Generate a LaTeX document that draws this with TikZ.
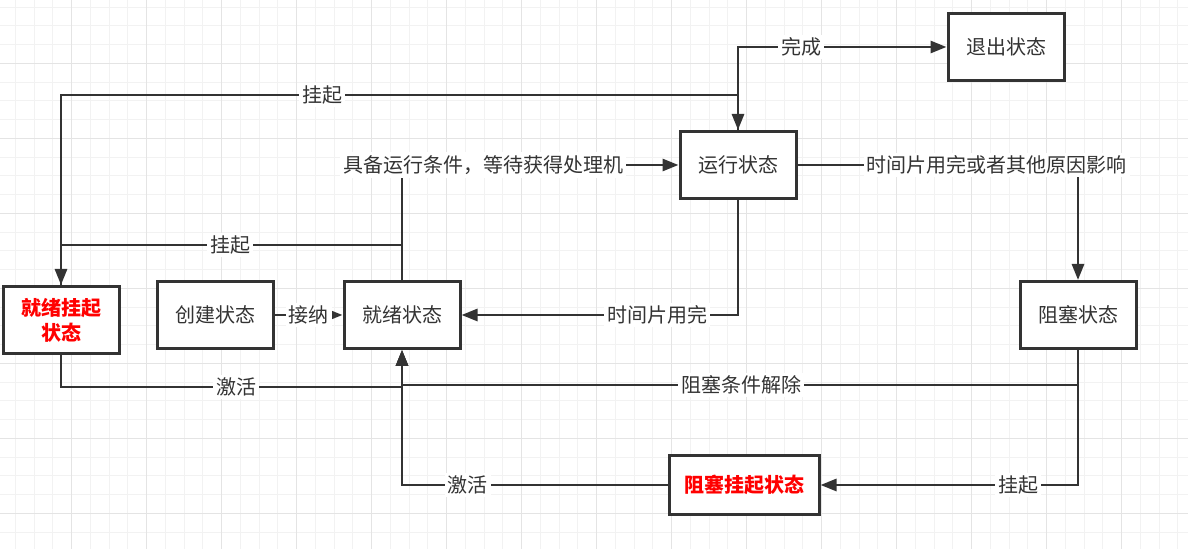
\documentclass[tikz,border=0pt]{standalone}
\usepackage{fontspec}
\setmainfont{Noto Sans CJK SC}
\usetikzlibrary{arrows.meta,backgrounds}

\definecolor{inkgray}{HTML}{333333}
\definecolor{gridminor}{HTML}{F2F2F2}
\definecolor{gridmajor}{HTML}{E4E4E4}
\definecolor{hotred}{HTML}{FF0000}

\tikzset{
  state/.style={draw=inkgray, line width=1.5pt, fill=white, text=inkgray,
    minimum width=58pt, minimum height=33.5pt, inner sep=0pt, align=center},
  hotstate/.style={state, text=hotred, font=\fontsize{10}{12.5}\selectfont\bfseries},
  flow/.style={draw=inkgray, line width=1.4pt, -{Triangle[length=8pt,width=6pt]}},
  lbl/.style={fill=white, text=inkgray, inner sep=1.5pt},
}

\begin{document}
\begin{tikzpicture}[x=0.5pt, y=-0.5pt, font=\fontsize{10}{12.5}\selectfont]
  \useasboundingbox (0,0) rectangle (1188,549);
  % paper grid
  \begin{scope}
    \clip (0,0) rectangle (1188,549);
    \fill[white] (0,0) rectangle (1188,549);
    \foreach \gx in {0,...,64} \draw[gridminor, line width=0.5pt] ({-3.3+18.75*\gx},0) -- ++(0,549);
    \foreach \gy in {0,...,30} \draw[gridminor, line width=0.5pt] (0,{-11.7+18.75*\gy}) -- ++(1188,0);
    \foreach \gx in {0,...,16} \draw[gridmajor, line width=0.5pt] ({-3.3+75*\gx},0) -- ++(0,549);
    \foreach \gy in {0,...,8} \draw[gridmajor, line width=0.5pt] (0,{-11.7+75*\gy}) -- ++(1188,0);
  \end{scope}

  % states
  \node[state] (exit) at (1006,47) {退出状态};
  \node[state] (run) at (738,165) {运行状态};
  \node[hotstate] (readysusp) at (61,320) {就绪挂起\\状态};
  \node[state] (create) at (215,315) {创建状态};
  \node[state] (ready) at (402,315) {就绪状态};
  \node[state] (blocked) at (1078,315) {阻塞状态};
  \node[hotstate, minimum width=75pt, minimum height=29.5pt] (blocksusp) at (744,485) {阻塞挂起状态};

  \coordinate (hangtop) at (738,95);
  \coordinate (hangmid) at (61,245);
  \coordinate (wakeleft) at (402,387);
  \coordinate (wakeright) at (402,385);

  % transitions
  \draw[flow] (run.north) |- (exit.west) node[lbl, pos=0.652] {完成};
  \draw[flow] (readysusp.north) |- (hangtop) node[lbl, pos=0.693] {挂起} -- (run.north);
  \draw[flow] (ready.north) |- (hangmid) node[lbl, pos=0.752] {挂起} -- (readysusp.north);
  \draw[flow] (ready.north) |- (run.west) node[lbl, pos=0.647] {具备运行条件，等待获得处理机};
  \draw[flow] (run.south) |- (ready.east) node[lbl, pos=0.646] {时间片用完};
  \draw[flow] (run.east) -| (blocked.north) node[lbl, pos=0.355] {时间片用完或者其他原因影响};
  \draw[flow] (create.east) -- (ready.west) node[lbl, midway] {接纳};
  \draw[flow] (readysusp.south) |- (wakeleft) node[lbl, pos=0.757] {激活} -- (ready.south);
  \draw[flow] (blocked.south) |- (wakeright) node[lbl, pos=0.749] {阻塞条件解除} -- (ready.south);
  \draw[flow] (blocked.south) |- (blocksusp.east) node[lbl, pos=0.616] {挂起};
  \draw[flow] (blocksusp.west) -| (ready.south) node[lbl, pos=0.376] {激活};
\end{tikzpicture}
\end{document}
